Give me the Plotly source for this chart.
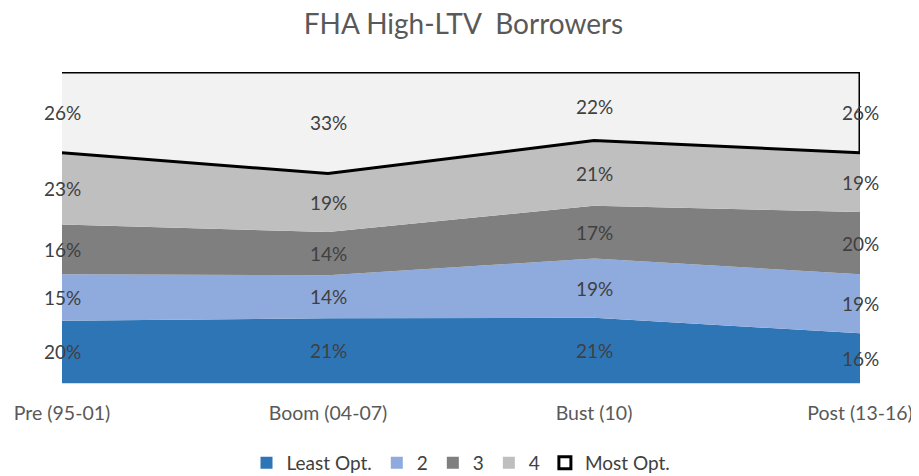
import plotly.graph_objects as go
import numpy as np

categories = ["Pre (95-01)", "Boom (04-07)", "Bust (10)", "Post (13-16)"]
series_names = ["Least Opt.", "2", "3", "4", "Most Opt."]
least_opt = [20, 21, 21, 16]
opt_2 = [15, 14, 19, 19]
opt_3 = [16, 14, 17, 20]
opt_4 = [23, 19, 21, 19]
most_opt = [26, 33, 22, 26]

colors = ["#2E75B6", "#8FAADC", "#7F7F7F", "#BFBFBF", "#F2F2F2"]
FONT = "Lato"

raw = np.array([least_opt, opt_2, opt_3, opt_4, most_opt], dtype=float)
totals = raw.sum(axis=0)
pct = raw / totals * 100
cum_top = np.cumsum(pct, axis=0)
cum_bot = cum_top - pct

fig = go.Figure()
for i in range(4):
    fig.add_trace(go.Scatter(
        x=categories, y=pct[i], name=series_names[i], mode="lines",
        stackgroup="one", line=dict(width=0, color=colors[i]),
        fillcolor=colors[i], hoverinfo="skip", showlegend=False))

# Most Opt. band as outlined polygon
fig.add_trace(go.Scatter(
    x=categories + categories[::-1],
    y=list(cum_top[4]) + list(cum_bot[4][::-1]),
    fill="toself", fillcolor=colors[4], mode="lines",
    line=dict(color="black", width=3), name=series_names[4],
    hoverinfo="skip", showlegend=False))

# legend entries
for i in range(5):
    fig.add_trace(go.Scatter(
        x=[None], y=[None], mode="markers", name=series_names[i],
        marker=dict(symbol="square", size=12, color=colors[i] if i < 4 else "white",
                    line=dict(color="black" if i == 4 else colors[i], width=3 if i == 4 else 0))))

for i in range(5):
    for j, c in enumerate(categories):
        fig.add_annotation(
            x=c, y=(cum_top[i][j] + cum_bot[i][j]) / 2,
            text=f"{int(raw[i][j])}%", showarrow=False,
            font=dict(size=19, color="#404040", family=FONT))

fig.update_layout(
    width=911, height=468,
    margin=dict(l=54, r=59, t=64, b=93, autoexpand=False),
    paper_bgcolor="white", plot_bgcolor="white",
    title=dict(text="FHA High-LTV  Borrowers", x=0.5, xanchor="center",
               y=0.966, yanchor="middle", yref="container",
               font=dict(size=28, color="#595959", family=FONT)),
    xaxis=dict(type="category", range=[0, 3], showgrid=False,
               showline=True, linecolor="#D9D9D9", linewidth=1,
               ticks="outside", ticklen=13, tickcolor="rgba(0,0,0,0)",
               tickfont=dict(size=19.5, color="#595959", family=FONT)),
    yaxis=dict(range=[0, 100], visible=False),
    showlegend=True,
    legend=dict(orientation="h", x=0.5, xanchor="center", y=0.028, yanchor="middle",
                yref="container",
                font=dict(size=19, color="#404040", family=FONT),
                traceorder="normal", itemwidth=30, tracegroupgap=0),
)

fig.write_html("out.html")
